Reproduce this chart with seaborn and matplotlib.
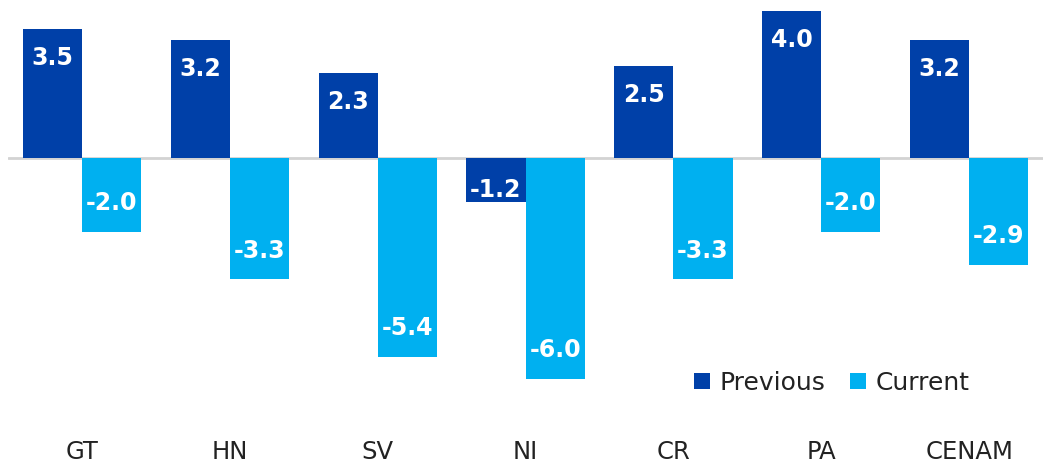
import pandas as pd
import matplotlib
matplotlib.use("Agg")
import matplotlib.pyplot as plt
import seaborn as sns

# data
countries = ["GT", "HN", "SV", "NI", "CR", "PA", "CENAM"]
previous = [3.5, 3.2, 2.3, -1.2, 2.5, 4.0, 3.2]
current = [-2.0, -3.3, -5.4, -6.0, -3.3, -2.0, -2.9]

dark_blue = "#0040A8"
light_blue = "#00B0F0"

df = pd.DataFrame({
    "country": countries * 2,
    "value": previous + current,
    "series": ["Previous"] * len(countries) + ["Current"] * len(countries),
})

sns.set_style("white")
plt.rcParams["font.family"] = ["DejaVu Sans"]

fig = plt.figure(figsize=(10.43, 4.62), dpi=100)
ax = fig.add_axes([8 / 1043, 32 / 462, 1035 / 1043, 430 / 462])

sns.barplot(data=df, x="country", y="value", hue="series",
            palette=[dark_blue, light_blue], width=0.8, linewidth=0,
            saturation=1, ax=ax)

ax.set_xlim(-0.5, 6.5)
ax.set_ylim(-(430 - 158) / 36.8, 158 / 36.8)
ax.axhline(0, color="#d3d3d3", lw=2, zorder=0)

# value labels inside bar ends
for cont in ax.containers:
    for bar in cont:
        v = bar.get_height()
        x = bar.get_x() + bar.get_width() / 2
        off = min(0.78, abs(v) - 0.87)
        y = v - off if v > 0 else v + off
        ax.text(x, y, f"{v:.1f}", ha="center", va="center", color="white",
                fontsize=17, fontweight="bold")

ax.set_xlabel("")
ax.set_ylabel("")
ax.set_yticks([])
ax.tick_params(axis="x", length=0, pad=7, labelsize=17.5, labelcolor="#222222")
for s in ax.spines.values():
    s.set_visible(False)

leg = ax.legend(loc="upper left", bbox_to_anchor=(684 / 1043, 1 - 361 / 462),
                bbox_transform=fig.transFigure, ncol=2, frameon=False,
                fontsize=18, handlelength=0.62, handleheight=0.62,
                handletextpad=0.4, columnspacing=1.0, borderaxespad=0)
for t in leg.get_texts():
    t.set_color("#222222")

fig.savefig("out.png", dpi=100)
